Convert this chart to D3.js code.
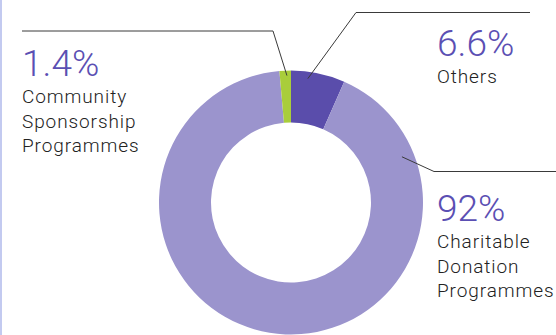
<!DOCTYPE html>
<html>
<head>
<meta charset="utf-8">
<script src="https://cdn.jsdelivr.net/npm/d3@7"></script>
<style>
  body { margin: 0; background: #fff; }
  svg { display: block; }
</style>
</head>
<body>
<div id="chart-area"></div>
<script>
var width = 556,
    height = 335;

// data, clockwise from 12 o'clock
var categories = ["Others", "Charitable Donation Programmes", "Community Sponsorship Programmes"];
var shares = [6.6, 92, 1.4];
var shareLabels = ["6.6%", "92%", "1.4%"];
var labelLines = [["Others"], ["Charitable", "Donation", "Programmes"], ["Community", "Sponsorship", "Programmes"]];
var colors = ["#5a4dab", "#9b94cd", "#a9cd3b"];

var svg = d3.select("#chart-area").append("svg")
    .attr("width", width)
    .attr("height", height);

// thin stripe on the left edge
svg.append("rect")
    .attr("x", 0).attr("y", 0)
    .attr("width", 2).attr("height", height)
    .style("fill", "#c3caf0");

var cx = 291, cy = 202.5,
    outerR = 132, innerR = 80;

var pie = d3.pie().sort(null).value(d => d);
var arcs = pie(shares);

var arc = d3.arc().innerRadius(innerR).outerRadius(outerR);

var g = svg.append("g").attr("transform", "translate(" + cx + "," + cy + ")");

g.selectAll(".slice")
    .data(arcs)
    .enter()
    .append("path")
    .attr("class", "slice")
    .attr("d", arc)
    .style("fill", (d, i) => colors[i]);

// leader lines: anchor point inside slice (radius / angle), elbow and line end
var anchorR = [125, 120, 127];
var anchorA = [0.135, 1.18, -0.032];   // radians
var elbows = [[356, 12.5], [434, 171.5], [273, 31]];
var lineEnds = [530, 556, 22];

arcs.forEach(function(d, i) {
  var a = anchorA[i];
  var ax = cx + anchorR[i] * Math.sin(a),
      ay = cy - anchorR[i] * Math.cos(a);
  svg.append("polyline")
      .attr("points", [[ax, ay], elbows[i], [lineEnds[i], elbows[i][1]]].map(p => p.join(",")).join(" "))
      .style("fill", "none")
      .style("stroke", "#3a3a3a")
      .style("stroke-width", 1);
});

// labels
var labelX = [437, 437, 22];
var labelY = [56, 221, 76];

categories.forEach(function(c, i) {
  svg.append("text")
      .attr("x", labelX[i])
      .attr("y", labelY[i])
      .style("font-family", "Roboto, sans-serif")
      .style("font-weight", 300)
      .style("font-size", "37px")
      .style("fill", "#5b4fb3")
      .text(shareLabels[i]);

  var t = svg.append("text")
      .attr("x", labelX[i])
      .attr("y", labelY[i] + 27)
      .style("font-family", "Roboto, sans-serif")
      .style("font-weight", 300)
      .style("font-size", "19px")
      .style("letter-spacing", "0.9px")
      .style("fill", "#222");
  t.selectAll("tspan")
      .data(labelLines[i])
      .enter()
      .append("tspan")
      .attr("x", labelX[i])
      .attr("dy", (d, j) => j == 0 ? 0 : 24.5)
      .text(d => d);
});
</script>
</body>
</html>
